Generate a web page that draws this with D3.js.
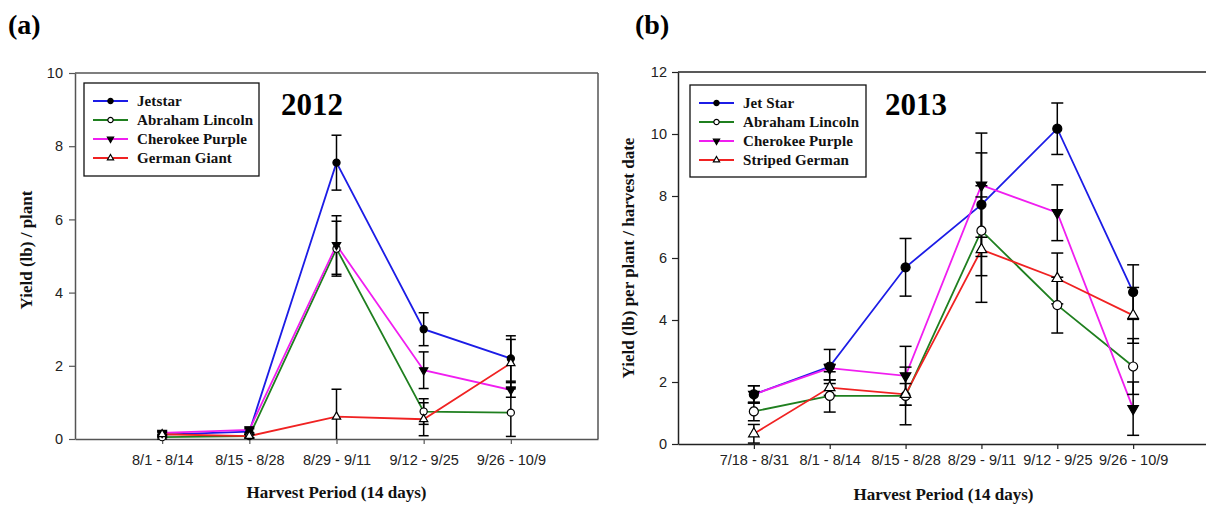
<!DOCTYPE html>
<html><head><meta charset="utf-8">
<script src="https://cdn.jsdelivr.net/npm/d3@7"></script>
<style>
html,body{margin:0;padding:0;background:#fff;}
svg{display:block;}
</style></head>
<body>
<svg id="chart" width="1206" height="508"></svg>
<script>
// ---------- DATA ----------
const periods2012 = ["8/1 - 8/14","8/15 - 8/28","8/29 - 9/11","9/12 - 9/25","9/26 - 10/9"];
const jetstar2012 = [0.12, 0.20, 7.55, 3.00, 2.20];
const jetstar2012Err = [0.05, 0.08, 0.75, 0.45, 0.62];
const lincoln2012 = [0.05, 0.08, 5.20, 0.75, 0.72];
const lincoln2012Err = [0.05, 0.05, 0.75, 0.35, 0.65];
const cherokee2012 = [0.17, 0.25, 5.30, 1.88, 1.34];
const cherokee2012Err = [0.05, 0.08, 0.80, 0.50, 0.20];
const german2012 = [0.13, 0.08, 0.61, 0.54, 2.07];
const german2012Err = [0.08, 0.05, 0.75, 0.45, 0.65];
const ticks2012 = [0, 2, 4, 6, 8, 10];

const periods2013 = ["7/18 - 8/31","8/1 - 8/14","8/15 - 8/28","8/29 - 9/11","9/12 - 9/25","9/26 - 10/9"];
const jetstar2013 = [1.60, 2.50, 5.70, 7.72, 10.17, 4.90];
const jetstar2013Err = [0.28, 0.55, 0.93, 1.67, 0.83, 0.88];
const lincoln2013 = [1.05, 1.55, 1.55, 6.88, 4.48, 2.50];
const lincoln2013Err = [0.30, 0.52, 0.93, 1.45, 0.90, 0.90];
const cherokee2013 = [1.60, 2.45, 2.20, 8.35, 7.46, 1.14];
const cherokee2013Err = [0.28, 0.12, 0.95, 1.68, 0.90, 0.86];
const striped2013 = [0.33, 1.82, 1.60, 6.27, 5.34, 4.15];
const striped2013Err = [0.30, 0.25, 0.35, 1.70, 0.82, 0.90];
const ticks2013 = [0, 2, 4, 6, 8, 10, 12];

// ---------- STYLE ----------
const COLORS = {blue:"#1c1ce6", green:"#1f7f1f", magenta:"#f01ef0", red:"#f02222"};
const SERIF = "'Liberation Serif','Times New Roman',serif";
const SANS = "'Liberation Sans',Arial,sans-serif";

const svg = d3.select("#chart");

function drawPanel(cfg) {
  const g = svg.append("g");
  const x = d3.scalePoint().domain(cfg.cats).range([cfg.left, cfg.right]).padding(1);
  const y = d3.scaleLinear().domain([0, cfg.ymax]).range([cfg.bottom, cfg.top]);

  // frame
  g.append("line").attr("x1", cfg.left).attr("x2", cfg.right).attr("y1", cfg.top).attr("y2", cfg.top)
    .attr("stroke", cfg.axisColor).attr("stroke-width", 1.5);
  g.append("line").attr("x1", cfg.right).attr("x2", cfg.right).attr("y1", cfg.top).attr("y2", cfg.bottom)
    .attr("stroke", cfg.axisColor).attr("stroke-width", 1.5);

  // axes
  const ya = g.append("g").attr("transform", `translate(${cfg.left},0)`)
    .call(d3.axisLeft(y).tickValues(cfg.ticks).tickFormat(d3.format("d")).tickSize(6).tickPadding(cfg.yPad).tickSizeOuter(0));
  const xa = g.append("g").attr("transform", `translate(0,${cfg.bottom})`)
    .call(d3.axisBottom(x).tickSize(5).tickPadding(cfg.xPad).tickSizeOuter(0));
  [ya, xa].forEach(a => {
    a.select(".domain").attr("stroke", cfg.axisColor).attr("stroke-width", 1.5);
    a.selectAll(".tick line").attr("stroke", cfg.axisColor).attr("stroke-width", 1.2);
    a.selectAll(".tick text").attr("fill", "#222").style("font-family", SANS).style("font-size", "14.5px");
  });

  // lines
  const line = d3.line().x((d, i) => x(cfg.cats[i])).y(d => y(d));
  cfg.series.forEach(s => {
    g.append("path").datum(s.values).attr("d", line).attr("fill", "none")
      .attr("stroke", s.color).attr("stroke-width", 1.8);
  });
  // error bars
  cfg.series.forEach(s => {
    const eb = g.append("g");
    s.values.forEach((v, i) => {
      const cx = x(cfg.cats[i]);
      const lo = Math.max(0, v - s.err[i]), hi = v + s.err[i];
      eb.append("line").attr("x1", cx).attr("x2", cx).attr("y1", y(lo)).attr("y2", y(hi))
        .attr("stroke", "#000").attr("stroke-width", 1.5);
      [hi, v - s.err[i] >= 0 ? lo : null].forEach(c => {
        if (c === null) return;
        eb.append("line").attr("x1", cx - cfg.cap).attr("x2", cx + cfg.cap).attr("y1", y(c)).attr("y2", y(c))
          .attr("stroke", "#000").attr("stroke-width", 1.5);
      });
    });
  });
  // markers
  function marker(sel, type, size) {
    const sym = type.startsWith("tri") ? d3.symbolTriangle : d3.symbolCircle;
    const fill = (type === "dot" || type === "triDown") ? "#000" : "#fff";
    return sel.append("path").attr("d", d3.symbol().type(sym).size(type.startsWith("tri") ? size * 0.75 : size)())
      .attr("fill", fill).attr("stroke", "#000").attr("stroke-width", 1.2);
  }
  cfg.series.forEach(s => {
    s.values.forEach((v, i) => {
      const m = g.append("g").attr("transform", `translate(${x(cfg.cats[i])},${y(v)})` + (s.marker === "triDown" ? " rotate(180)" : ""));
      marker(m, s.marker, cfg.msize);
    });
  });

  // legend
  const lg = g.append("g");
  lg.append("rect").attr("x", cfg.legend.x).attr("y", cfg.legend.y).attr("width", cfg.legend.w).attr("height", cfg.legend.h)
    .attr("fill", "#fff").attr("stroke", "#111").attr("stroke-width", 1.3);
  cfg.series.forEach((s, i) => {
    const ry = cfg.legend.y + cfg.legend.first + i * cfg.legend.step;
    const lx0 = cfg.legend.x + 9, lx1 = lx0 + 35;
    lg.append("line").attr("x1", lx0).attr("x2", lx1).attr("y1", ry).attr("y2", ry)
      .attr("stroke", s.color).attr("stroke-width", 2);
    const m = lg.append("g").attr("transform", `translate(${(lx0 + lx1) / 2},${ry})` + (s.marker === "triDown" ? " rotate(180)" : ""));
    marker(m, s.marker, 22);
    lg.append("text").attr("x", lx1 + 9).attr("y", ry + 5).text(s.name)
      .style("font-family", SERIF).style("font-weight", "bold").style("font-size", "15px")
      .style("letter-spacing", "0.1px").attr("fill", "#111");
  });

  // year label
  g.append("text").attr("x", cfg.year.x).attr("y", cfg.year.y).text(cfg.year.text)
    .style("font-family", SERIF).style("font-weight", "bold").style("font-size", "31px").attr("fill", "#000");
  // axis titles
  g.append("text").attr("x", (cfg.left + cfg.right) / 2).attr("y", cfg.xTitleY).attr("text-anchor", "middle")
    .text("Harvest Period (14 days)")
    .style("font-family", SERIF).style("font-weight", "bold").style("font-size", "17px").attr("fill", "#111");
  g.append("text").attr("transform", `translate(${cfg.yTitle.x},${cfg.yTitle.y}) rotate(-90)`).attr("text-anchor", "middle")
    .text(cfg.yTitle.text)
    .style("font-family", SERIF).style("font-weight", "bold").style("font-size", "17px").attr("fill", "#111");
  // panel tag
  g.append("text").attr("x", cfg.tag.x).attr("y", 34).text(cfg.tag.text)
    .style("font-family", SERIF).style("font-weight", "bold").style("font-size", "28px").attr("fill", "#000");
}

drawPanel({
  cats: periods2012, left: 75, right: 598, top: 73, bottom: 439, ymax: 10, ticks: ticks2012,
  axisColor: "#555", yPad: 6, xPad: 11, cap: 5, msize: 40,
  series: [
    {name: "Jetstar", values: jetstar2012, err: jetstar2012Err, color: COLORS.blue, marker: "dot"},
    {name: "Abraham Lincoln", values: lincoln2012, err: lincoln2012Err, color: COLORS.green, marker: "open"},
    {name: "Cherokee Purple", values: cherokee2012, err: cherokee2012Err, color: COLORS.magenta, marker: "triDown"},
    {name: "German Giant", values: german2012, err: german2012Err, color: COLORS.red, marker: "triUp"}
  ],
  legend: {x: 84, y: 83, w: 175, h: 93, first: 18, step: 19},
  year: {x: 281, y: 115, text: "2012"},
  xTitleY: 498,
  yTitle: {x: 32, y: 250, text: "Yield (lb) / plant"},
  tag: {x: 8, text: "(a)"}
});

drawPanel({
  cats: periods2013, left: 678, right: 1209, top: 72, bottom: 444, ymax: 12, ticks: ticks2013,
  axisColor: "#222", yPad: 5, xPad: 6, cap: 6, msize: 64,
  series: [
    {name: "Jet Star", values: jetstar2013, err: jetstar2013Err, color: COLORS.blue, marker: "dot"},
    {name: "Abraham Lincoln", values: lincoln2013, err: lincoln2013Err, color: COLORS.green, marker: "open"},
    {name: "Cherokee Purple", values: cherokee2013, err: cherokee2013Err, color: COLORS.magenta, marker: "triDown"},
    {name: "Striped German", values: striped2013, err: striped2013Err, color: COLORS.red, marker: "triUp"}
  ],
  legend: {x: 690, y: 85, w: 176, h: 92, first: 18, step: 19},
  year: {x: 885, y: 115, text: "2013"},
  xTitleY: 500,
  yTitle: {x: 634, y: 258, text: "Yield (lb) per plant / harvest date"},
  tag: {x: 635, text: "(b)"}
});
</script>
</body></html>
